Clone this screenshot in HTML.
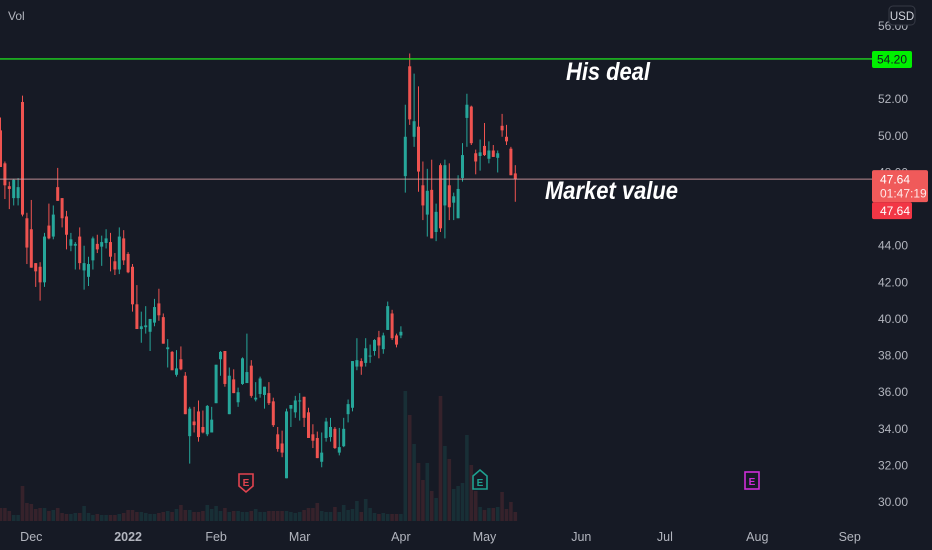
<!DOCTYPE html>
<html><head><meta charset="utf-8">
<style>
html,body{margin:0;padding:0;background:#161a25;}
svg{display:block;font-family:"Liberation Sans",sans-serif;}
</style></head>
<body>
<svg id="chart" width="932" height="550" viewBox="0 0 932 550" xmlns="http://www.w3.org/2000/svg">
<rect x="0" y="0" width="932" height="550" fill="#161a25"/>
<g id="vol"></g>
<g id="candles"></g>
<g id="axis"></g>
<g id="xaxis"></g>
<text x="8" y="20" fill="#b2b5be" font-size="12">Vol</text>
<rect x="889" y="6" width="26" height="19" rx="4" fill="#161a25" stroke="#363a45"/>
<text x="902" y="20" fill="#d1d4dc" font-size="11.5" text-anchor="middle">USD</text>
<text x="566" y="80" fill="#ffffff" font-size="25" font-weight="bold" font-style="italic" textLength="84" lengthAdjust="spacingAndGlyphs">His deal</text>
<text x="545" y="199" fill="#ffffff" font-size="25" font-weight="bold" font-style="italic" textLength="133" lengthAdjust="spacingAndGlyphs">Market value</text>
<g>
<path d="M239,474 h14 v12 l-7,6 l-7,-6 z" fill="#161a25" stroke="#e0434f" stroke-width="1.6"/>
<text x="246" y="486" fill="#e0434f" font-size="10" font-weight="bold" text-anchor="middle">E</text></g>
<g>
<path d="M473,476 l7,-6 l7,6 v13 h-14 z" fill="#161a25" stroke="#1fa08f" stroke-width="1.6"/>
<text x="480" y="486" fill="#1fa08f" font-size="10" font-weight="bold" text-anchor="middle">E</text></g>
<g>
<rect x="745" y="472" width="14" height="17" fill="#161a25" stroke="#d02dd8" stroke-width="1.6"/>
<text x="752" y="485" fill="#d02dd8" font-size="10" font-weight="bold" text-anchor="middle">E</text></g>
</svg>
<script>
const opens=[50.3,48.5,47.25,46.6,46.6,51.85,45.5,44.9,43.05,42.85,42.0,45.1,44.5,47.2,46.6,45.6,44.0,44.0,44.5,42.65,42.3,43.2,44.1,43.95,44.15,44.2,43.15,42.7,44.4,43.55,42.85,40.8,39.45,39.55,39.3,39.8,40.85,40.1,38.35,38.2,36.95,37.8,36.9,33.6,34.4,34.95,34.1,33.7,33.8,35.4,37.8,38.25,34.8,36.7,35.45,36.45,36.5,37.45,35.6,35.9,35.85,35.95,35.5,33.7,33.2,31.3,35.1,34.9,35.5,35.75,34.9,33.7,33.5,32.2,33.5,33.55,34.0,32.7,33.05,34.8,35.15,37.4,37.7,37.6,37.95,38.25,39.0,38.35,39.4,40.3,39.1,39.1,47.8,53.8,49.95,50.5,47.3,45.7,47.05,44.75,48.4,46.2,47.3,46.35,45.5,47.7,50.98,51.6,49.05,48.9,49.45,48.75,49.2,48.8,50.55,49.95,49.3,47.95];
const highs=[51.0,48.6,47.5,47.65,47.7,52.2,45.8,46.5,43.05,43.1,44.7,46.3,46.2,48.25,46.6,45.9,44.7,44.2,45.0,44.0,43.4,44.5,44.6,44.55,44.9,44.7,43.6,45.0,44.85,43.65,43.0,41.85,40.4,40.7,40.0,41.1,41.65,40.3,38.9,38.25,38.3,38.5,37.1,35.2,35.2,35.55,35.0,35.3,35.2,37.5,38.25,38.25,37.35,37.25,36.25,37.9,39.2,37.75,36.55,36.85,36.3,36.55,35.7,34.1,33.9,35.1,35.3,35.8,35.95,35.75,35.15,34.25,33.85,33.8,34.6,34.6,34.1,34.05,34.6,35.6,37.7,38.95,37.85,38.95,38.6,38.9,39.35,39.25,40.95,40.5,39.2,39.6,51.7,54.5,53.4,52.7,48.6,48.2,48.7,46.3,48.5,48.7,48.5,46.9,47.85,49.6,52.3,51.65,49.25,49.8,50.7,49.7,49.5,49.2,51.2,50.6,49.4,48.4];
const lows=[48.3,46.55,46.0,46.2,46.2,45.6,43.0,42.8,41.75,41.0,41.75,44.35,44.35,46.45,45.0,43.8,43.7,42.7,42.7,41.6,41.8,42.7,43.6,42.9,43.85,42.6,42.4,42.45,42.95,42.5,40.4,39.45,38.7,39.2,38.25,39.6,39.9,38.65,37.35,37.2,36.85,37.2,34.8,32.1,33.8,33.3,33.75,33.6,33.8,35.4,36.9,36.3,34.8,35.95,35.2,36.4,36.5,35.7,35.5,35.7,35.1,35.3,34.1,32.75,32.45,31.3,34.1,34.6,34.45,34.1,33.5,32.95,32.4,31.9,33.3,33.3,32.9,32.55,33.0,34.35,34.95,37.2,36.95,37.4,37.6,38.0,37.85,38.1,39.4,38.85,38.45,38.95,46.9,50.6,49.4,46.95,45.4,44.5,44.4,44.25,44.75,44.4,45.4,45.4,45.5,47.5,49.4,49.5,47.9,48.1,48.9,48.5,48.85,48.0,49.95,49.5,47.85,46.4];
const closes=[48.3,47.3,47.1,47.6,47.2,45.7,43.9,42.8,42.6,42.0,44.5,44.4,45.7,46.45,45.5,44.6,44.35,44.1,43.05,43.05,43.0,44.4,43.8,44.2,44.4,43.4,42.7,44.5,43.2,42.55,40.8,39.45,39.6,39.65,40.0,40.65,40.2,38.65,38.45,37.2,37.3,37.25,34.8,35.1,34.2,33.55,33.8,35.25,34.5,37.5,38.2,36.45,36.9,35.95,36.0,37.85,37.1,35.8,35.7,36.75,36.3,35.4,34.2,32.9,32.7,34.95,35.3,35.55,35.55,34.6,33.5,33.35,32.4,32.7,34.4,34.1,32.95,33.0,34.0,35.35,37.7,37.75,37.4,38.4,38.0,38.85,38.55,39.1,40.7,38.95,38.6,39.3,49.95,50.9,50.8,48.05,46.2,47.0,44.4,45.85,44.95,48.4,46.1,46.7,47.1,48.95,51.7,49.6,48.6,49.1,48.95,49.2,48.85,49.05,50.3,49.7,47.85,47.64];
const volumes=[1.3,1.3,1.0,0.6,0.6,3.5,1.8,1.7,1.2,1.3,1.3,1.0,1.1,1.3,0.8,0.7,0.7,0.8,0.8,1.5,0.8,0.6,0.7,0.6,0.6,0.6,0.6,0.7,0.8,1.1,1.1,0.9,0.9,0.8,0.7,0.7,0.8,0.9,1.0,0.9,1.2,1.6,1.1,1.1,0.9,0.9,1.0,1.6,1.2,1.5,1.0,1.3,0.9,1.0,1.0,0.9,0.9,1.0,1.2,0.9,0.9,1.0,1.0,1.0,1.0,1.0,0.9,0.8,0.9,1.1,1.3,1.3,1.8,1.0,0.9,0.9,1.4,0.9,1.6,1.1,1.2,2.0,0.9,2.2,1.3,0.8,0.7,0.8,0.7,0.7,0.7,0.7,13.0,10.6,7.7,5.8,4.1,5.8,3.0,2.3,12.5,7.5,6.2,3.2,3.5,3.8,8.6,5.6,3.0,1.4,1.1,1.3,1.3,1.4,2.9,1.2,1.9,0.9];
const priceTicks=[56,52,50,48,44,42,40,38,36,34,32,30];
const priceTickLabels=["56.00","52.00","50.00","48.00","44.00","42.00","40.00","38.00","36.00","34.00","32.00","30.00"];
const dateLabels=["Dec","2022","Feb","Mar","Apr","May","Jun","Jul","Aug","Sep"];
const dateBarIndex=[7,29,49,68,91,110,132,151,172,193];
const dealPrice=54.20;
const lastPrice=47.64;
const countdown="01:47:19";

const NS="http://www.w3.org/2000/svg";
const yScale=p=>26+(56-p)*18.31;
const xScale=i=>0.5+i*4.4;
const volBase=521, volScale=10;
const up="#26a69a", dn="#ef5350";
function mk(tag,attrs,parent){const e=document.createElementNS(NS,tag);for(const k in attrs)e.setAttribute(k,attrs[k]);parent.appendChild(e);return e;}

const volG=document.getElementById('vol');
volumes.forEach((v,i)=>{
  const isUp=closes[i]>=opens[i];
  const h=v*volScale;
  const r=mk('rect',{x:xScale(i)-1.8,y:volBase-h,width:3.6,height:h,fill:isUp?'rgba(38,166,154,0.15)':'rgba(239,83,80,0.15)'},volG);
  
  
});

const cG=document.getElementById('candles');
opens.forEach((o,i)=>{
  const c=closes[i], isUp=c>=o, col=isUp?up:dn, x=xScale(i);
  const g=mk('g',{},cG);
  
  
  mk('line',{x1:x,x2:x,y1:yScale(highs[i]),y2:yScale(lows[i]),stroke:col,'stroke-width':1},g);
  const top=yScale(Math.max(o,c)), bot=yScale(Math.min(o,c));
  mk('rect',{x:x-1.5,y:top,width:3,height:Math.max(1,bot-top),fill:col},g);
});

const ax=document.getElementById('axis');
priceTicks.forEach((p,i)=>{
  const t=mk('text',{x:908,y:yScale(p)+4,fill:'#b2b5be','font-size':12,'text-anchor':'end'},ax);
  t.textContent=priceTickLabels[i];
  
  
});
const dl=mk('line',{x1:0,x2:872,y1:yScale(dealPrice),y2:yScale(dealPrice),stroke:'#1ed81e','stroke-width':1.3},ax);


const dlb=mk('rect',{x:872,y:yScale(dealPrice)-8,width:40,height:17,rx:2,fill:'#00f000'},ax);


const dlt=mk('text',{x:892,y:yScale(dealPrice)+4.5,fill:'#131722','font-size':12,'text-anchor':'middle'},ax);
dlt.textContent=dealPrice.toFixed(2);
const ll=mk('line',{x1:0,x2:872,y1:yScale(lastPrice),y2:yScale(lastPrice),stroke:'#d9a0a6','stroke-width':1,opacity:0.85},ax);


const lb=mk('rect',{x:872,y:yScale(lastPrice)-9,width:56,height:32,rx:2,fill:'#f05a5a'},ax);


const lt1=mk('text',{x:880,y:yScale(lastPrice)+4.5,fill:'#ffffff','font-size':12},ax);
lt1.textContent=lastPrice.toFixed(2);
const lt2=mk('text',{x:880,y:yScale(lastPrice)+18.5,fill:'#ffe8e8','font-size':12},ax);
lt2.textContent=countdown;
const lb2=mk('rect',{x:872,y:yScale(lastPrice)+23,width:40,height:17,rx:2,fill:'#f23645'},ax);


const lt3=mk('text',{x:880,y:yScale(lastPrice)+36,fill:'#ffffff','font-size':12},ax);
lt3.textContent=lastPrice.toFixed(2);

const xa=document.getElementById('xaxis');
dateLabels.forEach((d,i)=>{
  const t=mk('text',{x:xScale(dateBarIndex[i]),y:541,fill:'#b2b5be','font-size':12.5,'text-anchor':'middle','font-weight':d==='2022'?'bold':'normal'},xa);
  t.textContent=d;
  
  
});
</script>
</body></html>
